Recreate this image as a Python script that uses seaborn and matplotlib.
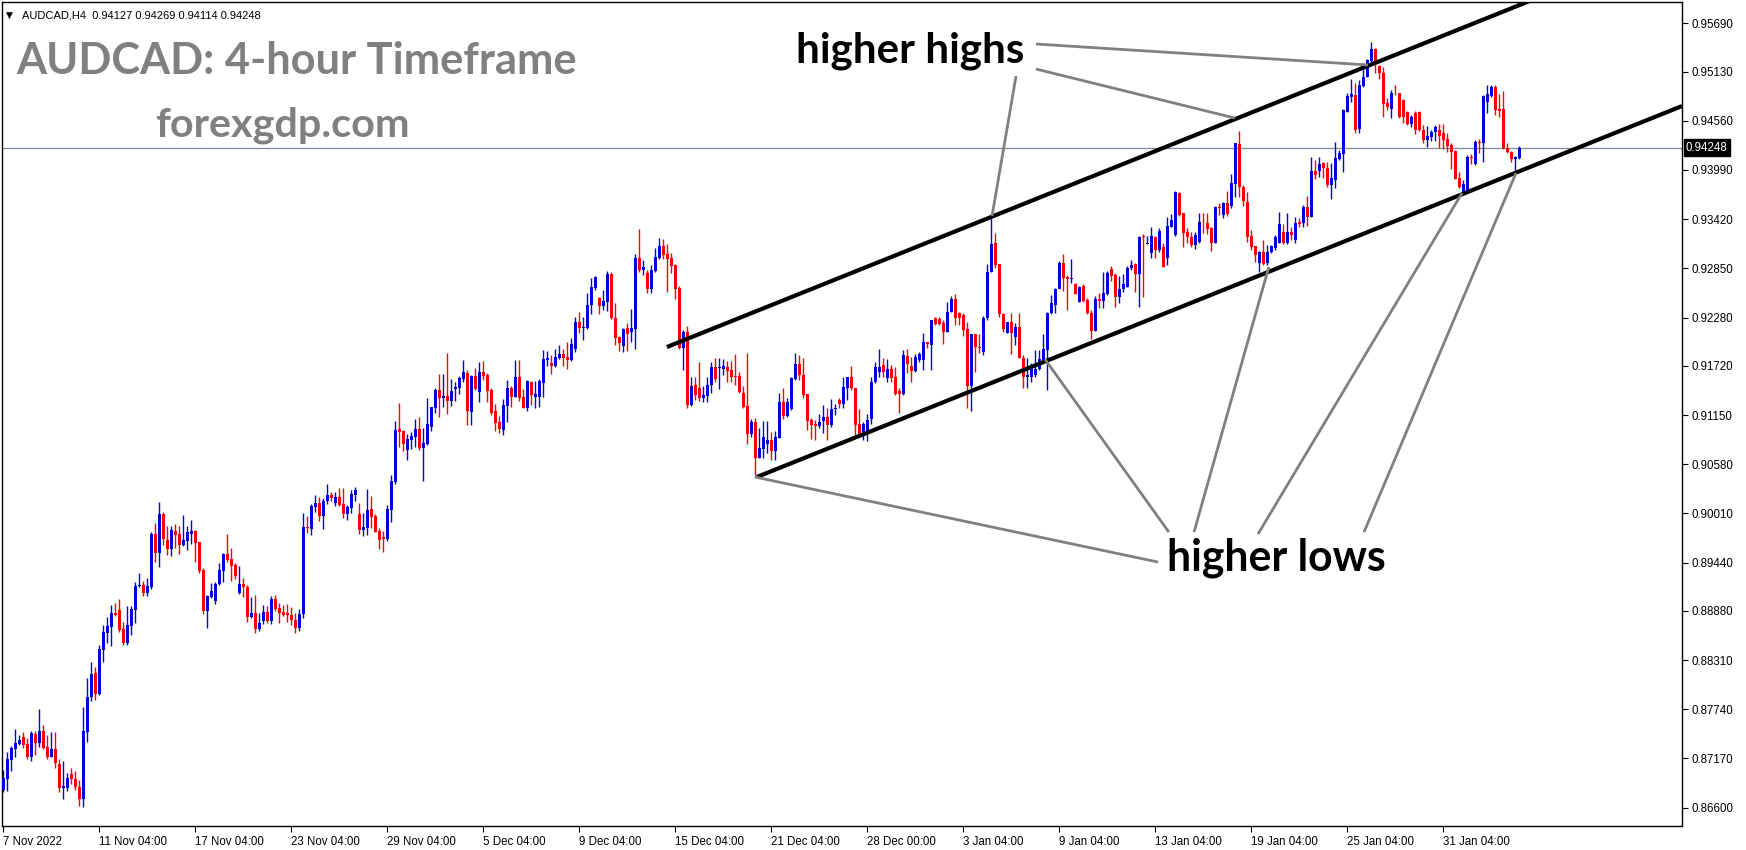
import numpy as np
import matplotlib
matplotlib.use("Agg")
import matplotlib.pyplot as plt
from matplotlib import font_manager as fm
import seaborn as sns

# ---------------- data (AUDCAD H4 candles) ----------------
opens = [
0.86804, 0.86931, 0.87156, 0.87283, 0.87337, 0.87422, 0.87337, 0.87190, 0.87453, 0.87353,
0.87488, 0.87302, 0.87190, 0.87279, 0.87105, 0.86831, 0.86831, 0.86990, 0.86928, 0.86835,
0.86700, 0.87480, 0.87886, 0.88160, 0.87917, 0.88427, 0.88627, 0.88697, 0.88859, 0.88890,
0.88670, 0.88508, 0.88709, 0.88890, 0.89165, 0.89176, 0.89091, 0.89153, 0.89771, 0.89555,
0.90003, 0.89702, 0.89601, 0.89806, 0.89771, 0.89644, 0.89690, 0.89771, 0.89810, 0.89678,
0.89354, 0.88883, 0.89045, 0.88999, 0.89192, 0.89346, 0.89539, 0.89478, 0.89408, 0.89091,
0.89192, 0.89157, 0.88813, 0.88852, 0.88674, 0.88767, 0.88867, 0.88767, 0.89018, 0.88914,
0.88867, 0.88860, 0.88836, 0.88780, 0.88680, 0.88840, 0.89856, 0.89833, 0.90084, 0.90130,
0.89979, 0.90153, 0.90223, 0.90130, 0.90200, 0.90119, 0.90007, 0.90076, 0.90227, 0.90003,
0.89821, 0.89845, 0.90061, 0.89979, 0.89806, 0.89736, 0.89717, 0.90053, 0.90374, 0.90988,
0.90965, 0.90749, 0.90864, 0.90899, 0.90988, 0.90772, 0.90818, 0.91015, 0.91235, 0.91440,
0.91351, 0.91370, 0.91316, 0.91455, 0.91467, 0.91571, 0.91637, 0.91189, 0.91602, 0.91421,
0.91649, 0.91614, 0.91440, 0.91197, 0.91069, 0.90980, 0.91258, 0.91463, 0.91363, 0.91590,
0.91359, 0.91235, 0.91536, 0.91363, 0.91363, 0.91525, 0.91788, 0.91757, 0.91722, 0.91811,
0.91857, 0.91822, 0.91788, 0.91919, 0.92228, 0.92162, 0.92162, 0.92425, 0.92626, 0.92506,
0.92413, 0.92464, 0.92784, 0.92270, 0.92054, 0.91954, 0.92158, 0.92108, 0.92147, 0.92970,
0.92831, 0.92796, 0.92610, 0.92823, 0.92974, 0.93109, 0.93016, 0.92974, 0.92889, 0.92622,
0.91930, 0.92108, 0.91266, 0.91498, 0.91459, 0.91351, 0.91374, 0.91498, 0.91706, 0.91691,
0.91683, 0.91703, 0.91672, 0.91606, 0.91598, 0.91409, 0.91251, 0.90926, 0.91069, 0.90656,
0.90756, 0.90818, 0.90860, 0.90737, 0.90887, 0.91297, 0.91139, 0.91220, 0.91567, 0.91741,
0.91614, 0.91390, 0.91092, 0.91046, 0.91027, 0.91085, 0.91123, 0.91034, 0.91216, 0.91320,
0.91274, 0.91463, 0.91587, 0.91463, 0.91042, 0.90911, 0.90957, 0.91100, 0.91529, 0.91653,
0.91730, 0.91583, 0.91683, 0.91595, 0.91432, 0.91394, 0.91838, 0.91722, 0.91664, 0.91788,
0.91788, 0.91993, 0.91962, 0.92271, 0.92259, 0.92213, 0.92116, 0.92348, 0.92495, 0.92329,
0.92309, 0.92143, 0.91486, 0.92085, 0.91942, 0.91884, 0.92271, 0.92804, 0.93148, 0.92900,
0.92317, 0.92097, 0.92224, 0.92058, 0.92170, 0.91815, 0.91595, 0.91595, 0.91614, 0.91680,
0.91788, 0.91904, 0.92329, 0.92425, 0.92607, 0.92916, 0.92754, 0.92727, 0.92665, 0.92464,
0.92649, 0.92483, 0.92329, 0.92124, 0.92491, 0.92472, 0.92549, 0.92842, 0.92773, 0.92522,
0.92611, 0.92638, 0.92850, 0.92896, 0.92784, 0.93229, 0.93132, 0.93024, 0.93217, 0.93063,
0.93101, 0.92974, 0.93333, 0.93236, 0.93727, 0.93487, 0.93275, 0.93217, 0.93120, 0.93151,
0.93379, 0.93379, 0.93314, 0.93140, 0.93565, 0.93468, 0.93603, 0.93572, 0.93827, 0.94287,
0.93789, 0.93623, 0.93225, 0.93109, 0.92908, 0.93043, 0.92908, 0.93043, 0.93082, 0.93140,
0.93271, 0.93140, 0.93275, 0.93178, 0.93391, 0.93371, 0.93565, 0.93441, 0.93978, 0.93982,
0.94067, 0.94017, 0.93816, 0.93874, 0.94113, 0.94175, 0.94666, 0.94832, 0.94859, 0.94461,
0.94963, 0.95063, 0.95257, 0.95388, 0.95195, 0.95110, 0.94762, 0.94696, 0.94886, 0.94878,
0.94801, 0.94666, 0.94519, 0.94654, 0.94662, 0.94453, 0.94337, 0.94376, 0.94434, 0.94453,
0.94422, 0.94345, 0.94279, 0.94210, 0.93893, 0.93738, 0.93738, 0.94144, 0.94059, 0.94318,
0.94299, 0.94781, 0.94851, 0.94955, 0.94693, 0.94693, 0.94241, 0.94202, 0.94113, 0.94127,
]
highs = [
0.87036, 0.87248, 0.87318, 0.87511, 0.87441, 0.87480, 0.87411, 0.87488, 0.87492, 0.87743,
0.87557, 0.87445, 0.87476, 0.87476, 0.87163, 0.87140, 0.87001, 0.87059, 0.87024, 0.86920,
0.87770, 0.88102, 0.88287, 0.88230, 0.88484, 0.88716, 0.88813, 0.88948, 0.88967, 0.89018,
0.88751, 0.88936, 0.88937, 0.89215, 0.89315, 0.89230, 0.89261, 0.89798, 0.89903, 0.90142,
0.90030, 0.89864, 0.89864, 0.89887, 0.89864, 0.89991, 0.89864, 0.89933, 0.89821, 0.89678,
0.89373, 0.89068, 0.89207, 0.89211, 0.89439, 0.89555, 0.89771, 0.89609, 0.89431, 0.89400,
0.89261, 0.89180, 0.89045, 0.89064, 0.88860, 0.88948, 0.88937, 0.89053, 0.89064, 0.88968,
0.88945, 0.88960, 0.88920, 0.88860, 0.88900, 0.90018, 0.89979, 0.90115, 0.90223, 0.90200,
0.90188, 0.90351, 0.90258, 0.90258, 0.90304, 0.90304, 0.90107, 0.90281, 0.90316, 0.90130,
0.90014, 0.90293, 0.90212, 0.90003, 0.89841, 0.89806, 0.90107, 0.90455, 0.91081, 0.91289,
0.90976, 0.90930, 0.90953, 0.91104, 0.91127, 0.91000, 0.91351, 0.91247, 0.91467, 0.91625,
0.91625, 0.91869, 0.91567, 0.91533, 0.91602, 0.91788, 0.91672, 0.91614, 0.91695, 0.91764,
0.91776, 0.91637, 0.91463, 0.91281, 0.91139, 0.91339, 0.91556, 0.91490, 0.91788, 0.91788,
0.91455, 0.91560, 0.91544, 0.91544, 0.91567, 0.91903, 0.91896, 0.91846, 0.91915, 0.91961,
0.91915, 0.91996, 0.92046, 0.92286, 0.92344, 0.92286, 0.92560, 0.92742, 0.92761, 0.92522,
0.92599, 0.92819, 0.92811, 0.92448, 0.92070, 0.92155, 0.92216, 0.92379, 0.93016, 0.93306,
0.92947, 0.92831, 0.92889, 0.93089, 0.93201, 0.93190, 0.93132, 0.93031, 0.92904, 0.92645,
0.92131, 0.92178, 0.91591, 0.91591, 0.91764, 0.91486, 0.91591, 0.91764, 0.91815, 0.91807,
0.91799, 0.91780, 0.91780, 0.91857, 0.91649, 0.91486, 0.91869, 0.91104, 0.91121, 0.90996,
0.91081, 0.91081, 0.90957, 0.90965, 0.91401, 0.91467, 0.91351, 0.91591, 0.91869, 0.91846,
0.91807, 0.91390, 0.91119, 0.91092, 0.91162, 0.91266, 0.91227, 0.91336, 0.91274, 0.91343,
0.91591, 0.91594, 0.91718, 0.91463, 0.91220, 0.91073, 0.91166, 0.91595, 0.91765, 0.91915,
0.91807, 0.91796, 0.91730, 0.91703, 0.91459, 0.91908, 0.91919, 0.91819, 0.91853, 0.91884,
0.92097, 0.92000, 0.92251, 0.92286, 0.92286, 0.92251, 0.92464, 0.92530, 0.92557, 0.92348,
0.92329, 0.92232, 0.92085, 0.92085, 0.92085, 0.92302, 0.92900, 0.93441, 0.93256, 0.92900,
0.92329, 0.92232, 0.92329, 0.92213, 0.92329, 0.91846, 0.91815, 0.91749, 0.91904, 0.91904,
0.92085, 0.92348, 0.92541, 0.92626, 0.92935, 0.93012, 0.92773, 0.92958, 0.92676, 0.92649,
0.92665, 0.92502, 0.92367, 0.92530, 0.92560, 0.92804, 0.92819, 0.92877, 0.92792, 0.92761,
0.92781, 0.92877, 0.92947, 0.92908, 0.93229, 0.93248, 0.93229, 0.93325, 0.93229, 0.93314,
0.93140, 0.93449, 0.93480, 0.93746, 0.93735, 0.93495, 0.93314, 0.93275, 0.93275, 0.93487,
0.93495, 0.93495, 0.93333, 0.93572, 0.93611, 0.93615, 0.93742, 0.93943, 0.94306, 0.94442,
0.93816, 0.93731, 0.93294, 0.93109, 0.93047, 0.93178, 0.93120, 0.93120, 0.93236, 0.93507,
0.93364, 0.93487, 0.93333, 0.93449, 0.93429, 0.93588, 0.93688, 0.94144, 0.94105, 0.94144,
0.94086, 0.94086, 0.94075, 0.94318, 0.94221, 0.94700, 0.94878, 0.95040, 0.94994, 0.95033,
0.95226, 0.95272, 0.95469, 0.95400, 0.95206, 0.95187, 0.94820, 0.94917, 0.94975, 0.94886,
0.94808, 0.94673, 0.94627, 0.94673, 0.94669, 0.94511, 0.94499, 0.94453, 0.94507, 0.94519,
0.94519, 0.94414, 0.94299, 0.94221, 0.93970, 0.93874, 0.94163, 0.94175, 0.94337, 0.94349,
0.94859, 0.94975, 0.94975, 0.94975, 0.94866, 0.94905, 0.94299, 0.94214, 0.94152, 0.94269,
]
lows = [
0.86785, 0.86796, 0.87028, 0.87190, 0.87326, 0.87287, 0.87167, 0.87144, 0.87210, 0.87302,
0.87275, 0.87167, 0.87183, 0.87063, 0.86785, 0.86700, 0.86796, 0.86877, 0.86808, 0.86623,
0.86611, 0.87364, 0.87839, 0.87851, 0.87905, 0.88291, 0.88504, 0.88477, 0.88824, 0.88639,
0.88488, 0.88488, 0.88601, 0.88744, 0.89153, 0.89057, 0.89053, 0.89130, 0.89451, 0.89393,
0.89644, 0.89528, 0.89520, 0.89609, 0.89539, 0.89632, 0.89586, 0.89655, 0.89451, 0.89315,
0.88844, 0.88686, 0.89033, 0.88960, 0.89176, 0.89219, 0.89447, 0.89230, 0.89254, 0.89076,
0.89045, 0.88755, 0.88802, 0.88628, 0.88651, 0.88724, 0.88744, 0.88728, 0.88883, 0.88744,
0.88825, 0.88755, 0.88720, 0.88620, 0.88650, 0.88800, 0.89786, 0.89759, 0.90030, 0.89922,
0.89833, 0.90123, 0.90153, 0.90099, 0.90099, 0.89960, 0.89937, 0.90018, 0.90153, 0.89775,
0.89752, 0.89763, 0.89845, 0.89794, 0.89601, 0.89566, 0.89694, 0.89914, 0.90354, 0.90783,
0.90737, 0.90633, 0.90760, 0.90783, 0.90749, 0.90389, 0.90803, 0.90969, 0.91177, 0.91131,
0.91247, 0.91162, 0.91255, 0.91316, 0.91397, 0.91536, 0.91038, 0.91038, 0.91444, 0.91305,
0.91560, 0.91305, 0.91154, 0.90969, 0.90945, 0.90922, 0.91073, 0.91247, 0.91363, 0.91316,
0.91231, 0.91200, 0.91266, 0.91235, 0.91243, 0.91363, 0.91722, 0.91629, 0.91710, 0.91799,
0.91722, 0.91687, 0.91780, 0.91884, 0.92104, 0.92023, 0.92147, 0.92317, 0.92599, 0.92321,
0.92367, 0.92355, 0.92263, 0.91965, 0.91896, 0.91884, 0.91896, 0.92000, 0.91919, 0.92811,
0.92773, 0.92568, 0.92568, 0.92811, 0.92958, 0.92958, 0.92580, 0.92792, 0.92498, 0.91915,
0.91676, 0.91235, 0.91258, 0.91324, 0.91312, 0.91305, 0.91305, 0.91405, 0.91536, 0.91451,
0.91614, 0.91536, 0.91536, 0.91498, 0.91401, 0.91227, 0.90810, 0.90899, 0.90455, 0.90648,
0.90648, 0.90706, 0.90629, 0.90629, 0.90880, 0.91104, 0.91131, 0.91208, 0.91556, 0.91556,
0.91343, 0.90976, 0.90872, 0.90860, 0.90996, 0.90938, 0.90860, 0.91015, 0.91150, 0.91227,
0.91227, 0.91320, 0.91440, 0.90918, 0.90899, 0.90860, 0.90849, 0.91050, 0.91517, 0.91595,
0.91595, 0.91533, 0.91537, 0.91378, 0.91170, 0.91378, 0.91633, 0.91537, 0.91653, 0.91769,
0.91672, 0.91923, 0.91672, 0.92197, 0.92193, 0.91969, 0.92116, 0.92348, 0.92193, 0.92193,
0.92070, 0.91228, 0.91197, 0.91653, 0.91865, 0.91846, 0.92251, 0.92804, 0.92850, 0.92290,
0.92116, 0.92097, 0.91861, 0.91962, 0.91815, 0.91467, 0.91467, 0.91537, 0.91595, 0.91672,
0.91769, 0.91440, 0.92325, 0.92329, 0.92607, 0.92591, 0.92367, 0.92676, 0.92553, 0.92464,
0.92464, 0.92321, 0.92031, 0.92124, 0.92387, 0.92387, 0.92541, 0.92703, 0.92398, 0.92452,
0.92580, 0.92638, 0.92831, 0.92572, 0.92398, 0.92522, 0.93128, 0.92974, 0.92974, 0.93043,
0.92861, 0.92889, 0.93325, 0.93229, 0.93460, 0.93101, 0.93140, 0.93101, 0.93074, 0.93139,
0.93256, 0.93248, 0.93055, 0.93140, 0.93468, 0.93429, 0.93456, 0.93553, 0.93681, 0.93681,
0.93572, 0.93159, 0.93062, 0.92920, 0.92804, 0.92889, 0.92889, 0.93024, 0.93062, 0.93140,
0.93128, 0.93132, 0.93178, 0.93140, 0.93333, 0.93333, 0.93341, 0.93441, 0.93885, 0.93912,
0.93893, 0.93796, 0.93650, 0.93777, 0.94105, 0.93970, 0.94666, 0.94781, 0.94414, 0.94414,
0.94955, 0.95063, 0.95245, 0.95110, 0.95040, 0.94600, 0.94685, 0.94588, 0.94859, 0.94588,
0.94530, 0.94511, 0.94492, 0.94407, 0.94445, 0.94299, 0.94252, 0.94329, 0.94326, 0.94241,
0.94229, 0.94202, 0.93997, 0.93881, 0.93777, 0.93700, 0.93719, 0.94055, 0.94048, 0.94183,
0.94086, 0.94646, 0.94839, 0.94627, 0.94600, 0.94229, 0.94183, 0.94086, 0.93970, 0.94114,
]
closes = [
0.86939, 0.87163, 0.87291, 0.87349, 0.87384, 0.87326, 0.87190, 0.87461, 0.87353, 0.87488,
0.87295, 0.87190, 0.87279, 0.87113, 0.86831, 0.86850, 0.86939, 0.86928, 0.86835, 0.86704,
0.87488, 0.87882, 0.88148, 0.87920, 0.88438, 0.88635, 0.88705, 0.88851, 0.88836, 0.88658,
0.88508, 0.88716, 0.88902, 0.89169, 0.89184, 0.89091, 0.89169, 0.89771, 0.89555, 0.90003,
0.89717, 0.89601, 0.89818, 0.89760, 0.89648, 0.89702, 0.89794, 0.89810, 0.89663, 0.89342,
0.88879, 0.89057, 0.89111, 0.89192, 0.89354, 0.89539, 0.89470, 0.89400, 0.89284, 0.89192,
0.89153, 0.88813, 0.88852, 0.88674, 0.88736, 0.88867, 0.88767, 0.89022, 0.88906, 0.88860,
0.88832, 0.88836, 0.88780, 0.88680, 0.88840, 0.89856, 0.89845, 0.90095, 0.90130, 0.89979,
0.90153, 0.90223, 0.90188, 0.90200, 0.90111, 0.90007, 0.90084, 0.90235, 0.90281, 0.89821,
0.89852, 0.90049, 0.89968, 0.89798, 0.89705, 0.89717, 0.90061, 0.90385, 0.90976, 0.90957,
0.90818, 0.90872, 0.90907, 0.90988, 0.90772, 0.90826, 0.91046, 0.91243, 0.91440, 0.91351,
0.91370, 0.91316, 0.91428, 0.91479, 0.91579, 0.91649, 0.91200, 0.91606, 0.91451, 0.91649,
0.91606, 0.91432, 0.91177, 0.91061, 0.90992, 0.91266, 0.91463, 0.91363, 0.91590, 0.91351,
0.91235, 0.91548, 0.91386, 0.91394, 0.91548, 0.91799, 0.91811, 0.91722, 0.91826, 0.91857,
0.91811, 0.91792, 0.91973, 0.92228, 0.92162, 0.92174, 0.92425, 0.92634, 0.92750, 0.92413,
0.92471, 0.92784, 0.92270, 0.92046, 0.91988, 0.92147, 0.92093, 0.92158, 0.92970, 0.92831,
0.92869, 0.92610, 0.92831, 0.92981, 0.93109, 0.93005, 0.92958, 0.92881, 0.92614, 0.91930,
0.92116, 0.91266, 0.91486, 0.91378, 0.91351, 0.91382, 0.91498, 0.91706, 0.91567, 0.91703,
0.91722, 0.91660, 0.91594, 0.91594, 0.91417, 0.91243, 0.90926, 0.91069, 0.90656, 0.90764,
0.90891, 0.90864, 0.90737, 0.90899, 0.91297, 0.91139, 0.91297, 0.91583, 0.91741, 0.91614,
0.91382, 0.91085, 0.91034, 0.91027, 0.91073, 0.91123, 0.91034, 0.91220, 0.91227, 0.91278,
0.91471, 0.91587, 0.91463, 0.91034, 0.90911, 0.91042, 0.91088, 0.91529, 0.91707, 0.91711,
0.91653, 0.91683, 0.91583, 0.91394, 0.91394, 0.91846, 0.91741, 0.91664, 0.91823, 0.91861,
0.91993, 0.91969, 0.92251, 0.92205, 0.92201, 0.92116, 0.92348, 0.92495, 0.92271, 0.92278,
0.92135, 0.91486, 0.92085, 0.91942, 0.91931, 0.92278, 0.92812, 0.93132, 0.92889, 0.92317,
0.92147, 0.92224, 0.92097, 0.92170, 0.91815, 0.91595, 0.91614, 0.91730, 0.91683, 0.91796,
0.91915, 0.92329, 0.92445, 0.92611, 0.92916, 0.92734, 0.92727, 0.92742, 0.92557, 0.92638,
0.92472, 0.92329, 0.92124, 0.92491, 0.92472, 0.92560, 0.92792, 0.92765, 0.92522, 0.92611,
0.92665, 0.92858, 0.92889, 0.92784, 0.93217, 0.93217, 0.93140, 0.93229, 0.93063, 0.93283,
0.92869, 0.93341, 0.93410, 0.93738, 0.93468, 0.93256, 0.93209, 0.93120, 0.93236, 0.93391,
0.93371, 0.93302, 0.93140, 0.93565, 0.93553, 0.93611, 0.93476, 0.93835, 0.94299, 0.93789,
0.93634, 0.93217, 0.93101, 0.93004, 0.93035, 0.92900, 0.93035, 0.93109, 0.93209, 0.93364,
0.93140, 0.93275, 0.93236, 0.93371, 0.93360, 0.93565, 0.93441, 0.93978, 0.93932, 0.94059,
0.94017, 0.93816, 0.93893, 0.94132, 0.94183, 0.94685, 0.94847, 0.94866, 0.94453, 0.94975,
0.95071, 0.95264, 0.95388, 0.95245, 0.95110, 0.94754, 0.94716, 0.94878, 0.94878, 0.94600,
0.94600, 0.94519, 0.94600, 0.94453, 0.94453, 0.94337, 0.94384, 0.94434, 0.94492, 0.94384,
0.94337, 0.94268, 0.94202, 0.93885, 0.93789, 0.93823, 0.94144, 0.94125, 0.94318, 0.94299,
0.94847, 0.94866, 0.94955, 0.94685, 0.94677, 0.94241, 0.94202, 0.94113, 0.94144, 0.94248,
]

x_tick_labels = ["7 Nov 2022", "11 Nov 04:00", "17 Nov 04:00", "23 Nov 04:00", "29 Nov 04:00",
                 "5 Dec 04:00", "9 Dec 04:00", "15 Dec 04:00", "21 Dec 04:00", "28 Dec 00:00",
                 "3 Jan 04:00", "9 Jan 04:00", "13 Jan 04:00", "19 Jan 04:00", "25 Jan 04:00",
                 "31 Jan 04:00"]
x_tick_bars = [0, 24, 48, 72, 96, 120, 144, 168, 192, 216, 240, 264, 288, 312, 336, 360]
y_ticks = [0.95690, 0.95130, 0.94560, 0.93990, 0.93420, 0.92850, 0.92280, 0.91720, 0.91150,
           0.90580, 0.90010, 0.89440, 0.88880, 0.88310, 0.87740, 0.87170, 0.86600]
last_price = 0.94248
header = "AUDCAD,H4  0.94127 0.94269 0.94114 0.94248"

# channel lines (bar index, price)
upper_channel_x = [165.9, 382.2]
upper_channel_y = [0.91938, 0.95960]
lower_channel_x = [188.4, 419.7]
lower_channel_y = [0.90432, 0.94731]
# pointer lines from the labels to the swing points: (x0, y0, x1, y1)
highs_pointers = [(258.2, 0.95450, 341.2, 0.95207),
                  (258.2, 0.95160, 307.9, 0.94592),
                  (253.2, 0.95079, 247.2, 0.93457)]
lows_pointers = [(288.7, 0.89446, 187.9, 0.90432),
                 (291.4, 0.89794, 260.4, 0.91799),
                 (297.7, 0.89794, 316.4, 0.92866),
                 (313.7, 0.89771, 364.7, 0.93723),
                 (340.2, 0.89794, 378.2, 0.93955)]

# ---------------- style ----------------
sns.set_theme(style="white")
avail = {f.name for f in fm.fontManager.ttflist}
def pick(cands):
    for c in cands:
        if c in avail:
            return c
    return "DejaVu Sans"
tick_font = pick(["Liberation Sans", "DejaVu Sans"])
big_font = pick(["Liberation Sans Narrow", "Lato", "Open Sans", "DejaVu Sans"])
plt.rcParams["font.family"] = [tick_font, "DejaVu Sans"]

W, H = 1746, 850
fig = plt.figure(figsize=(W / 100, H / 100), dpi=100)
fig.patch.set_facecolor("white")
ax = fig.add_axes([2 / W, 24 / H, 1680 / W, 824 / H])
ax.set_facecolor("white")

o = np.array(opens); h = np.array(highs); l = np.array(lows); c = np.array(closes)
idx = np.arange(len(c))
up = c >= o
cols = np.where(up, "#0000e0", "#ff0000")
h = np.maximum(h, np.maximum(o, c)); l = np.minimum(l, np.minimum(o, c))
ax.vlines(idx, l, h, colors=cols, linewidth=1.0, zorder=2)
body_bottom = np.minimum(o, c)
body_h = np.maximum(np.abs(c - o), 0.00009)
ax.bar(idx, body_h, bottom=body_bottom, width=0.75, color=cols, linewidth=0, zorder=3)

ax.set_xlim(-0.33, 419.7)
ax.set_ylim(0.86387, 0.95937)

# last price line
ax.axhline(last_price, color="#7b8a9a", linewidth=0.9, zorder=1)

# channel lines
ax.plot(upper_channel_x, upper_channel_y, color="black", lw=3.0, solid_capstyle="butt", zorder=4)
ax.plot(lower_channel_x, lower_channel_y, color="black", lw=3.0, solid_capstyle="butt", zorder=4)
for x0, y0, x1, y1 in highs_pointers + lows_pointers:
    ax.plot([x0, x1], [y0, y1], color="#808080", lw=2.0, solid_capstyle="butt", zorder=5)

# axes styling
for s in ax.spines.values():
    s.set_visible(True); s.set_color("black"); s.set_linewidth(1.0)
ax.yaxis.tick_right()
ax.set_yticks(y_ticks)
ax.set_yticklabels([f"{v:.5f}" for v in y_ticks])
ax.tick_params(axis="y", right=True, left=False, length=4, width=0.8, color="black",
               labelsize=8.3, pad=3, labelcolor="black")
ax.set_xticks(x_tick_bars)
ax.set_xticklabels(x_tick_labels, ha="left")
ax.tick_params(axis="x", bottom=True, length=4, width=0.8, color="black",
               labelsize=8.3, pad=3, labelcolor="black")
ax.grid(False)

# current price label
ax.text(1.0 + 4 / 1680, last_price, f"{last_price:.5f}", transform=ax.get_yaxis_transform(),
        ha="left", va="center", fontsize=8.3, color="white",
        bbox=dict(boxstyle="square,pad=0.2", facecolor="black", edgecolor="black"))

# header
fig.text(6 / W, 1 - 15 / H, "\u25bc", fontsize=6.5, color="black", va="center", ha="left",
         family=["DejaVu Sans"])
fig.text(22 / W, 1 - 15 / H, header, fontsize=8.0, color="black", va="center", ha="left")

fig.canvas.draw()
renderer = fig.canvas.get_renderer()

def fit_text(s, left_px, baseline_px, width_px, color, family):
    t = fig.text(left_px / W, 1 - baseline_px / H, s, ha="left", va="baseline",
                 fontsize=30, fontweight="bold", color=color, family=family)
    bb = t.get_window_extent(renderer)
    t.set_fontsize(30 * width_px / bb.width)
    return t

fit_text("AUDCAD: 4-hour Timeframe", 16, 74, 560, "#808080", [big_font, "DejaVu Sans"])
fit_text("forexgdp.com", 155, 136, 254, "#808080", [big_font, "DejaVu Sans"])
fit_text("higher highs", 796, 62, 228, "black", [big_font, "DejaVu Sans"])
fit_text("higher lows", 1167, 570, 219, "black", [big_font, "DejaVu Sans"])

fig.savefig("out.png", dpi=100, facecolor="white")
